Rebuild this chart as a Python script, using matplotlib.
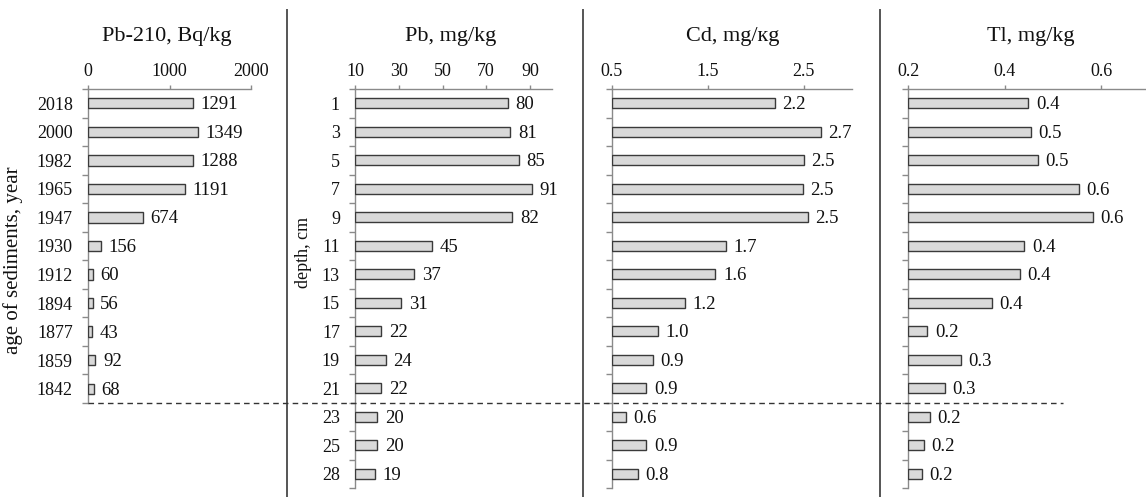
import matplotlib
matplotlib.use("Agg")
import matplotlib.pyplot as plt
import matplotlib.transforms as mtransforms
from matplotlib.lines import Line2D
import numpy as np

plt.rcParams['font.family'] = ['Liberation Serif', 'DejaVu Serif']

# ---------------- data ----------------
years = ["2018", "2000", "1982", "1965", "1947", "1930", "1912", "1894", "1877", "1859", "1842"]
depths = ["1", "3", "5", "7", "9", "11", "13", "15", "17", "19", "21", "23", "25", "28"]

pb210 = [1291, 1349, 1288, 1191, 674, 156, 60, 56, 43, 92, 68]
pb210_labels = ["1291", "1349", "1288", "1191", "674", "156", "60", "56", "43", "92", "68"]

pb = [80, 81, 85, 91, 82, 45, 37, 31, 22, 24, 22, 20, 20, 19]
pb_labels = ["80", "81", "85", "91", "82", "45", "37", "31", "22", "24", "22", "20", "20", "19"]

cd = [2.2, 2.68, 2.5, 2.49, 2.54, 1.69, 1.58, 1.26, 0.98, 0.93, 0.86, 0.65, 0.86, 0.77]
cd_labels = ["2.2", "2.7", "2.5", "2.5", "2.5", "1.7", "1.6", "1.2", "1.0", "0.9", "0.9", "0.6", "0.9", "0.8"]

tl = [0.449, 0.454, 0.468, 0.553, 0.582, 0.44, 0.431, 0.373, 0.239, 0.309, 0.276, 0.244, 0.232, 0.228]
tl_labels = ["0.4", "0.5", "0.5", "0.6", "0.6", "0.4", "0.4", "0.4", "0.2", "0.3", "0.3", "0.2", "0.2", "0.2"]

titles = ["Pb-210, Bq/kg", "Pb, mg/kg", "Cd, mg/кg", "Tl, mg/kg"]

# ---------------- layout ----------------
W, H = 1146, 497
fig = plt.figure(figsize=(W / 100, H / 100), dpi=100)

def px_axes(left, right, top, bottom):
    return fig.add_axes([left / W, 1 - bottom / H, (right - left) / W, (bottom - top) / H])

GRAY = "#8a8a8a"
TXT = "#111111"
FILL = "#d9d9d9"
EDGE = "#3a3a3a"

panels = [
    dict(box=(88, 251, 89, 403), vals=pb210, labs=pb210_labels, cats=years,
         xlim=(0, 2000), xticks=[0, 1000, 2000], xtl=["0", "1000", "2000"], show_y=True),
    dict(box=(355.3, 551.7, 89, 488), vals=pb, labs=pb_labels, cats=depths,
         xlim=(10, 100), xticks=[10, 30, 50, 70, 90], xtl=["10", "30", "50", "70", "90"], show_y=True),
    dict(box=(611.7, 851.7, 89, 488), vals=cd, labs=cd_labels, cats=depths,
         xlim=(0.5, 3.0), xticks=[0.5, 1.5, 2.5], xtl=["0.5", "1.5", "2.5"], show_y=False),
    dict(box=(908.3, 1149.6, 89, 488), vals=tl, labs=tl_labels, cats=depths,
         xlim=(0.2, 0.7), xticks=[0.2, 0.4, 0.6], xtl=["0.2", "0.4", "0.6"], show_y=False),
]

axes = []
for p in panels:
    ax = px_axes(*p["box"])
    n = len(p["cats"])
    y = np.arange(n)
    x0 = p["xlim"][0]
    ax.barh(y, np.array(p["vals"]) - x0, left=x0, height=0.36,
            color=FILL, edgecolor=EDGE, linewidth=1.0, zorder=3)
    for i, (v, lab) in enumerate(zip(p["vals"], p["labs"])):
        ax.annotate(lab, xy=(v, i), xytext=(5.5, -1), textcoords="offset points",
                    ha="left", va="center", fontsize=13.5, color=TXT)
    ax.set_xlim(*p["xlim"])
    ax.set_ylim(n - 0.5, -0.5)
    ax.xaxis.tick_top()
    ax.set_xticks(p["xticks"])
    ax.set_xticklabels(p["xtl"])
    ax.tick_params(axis="x", direction="out", length=3, width=1, color=GRAY,
                   labelsize=13, labelcolor=TXT, pad=3.5)
    ax.set_yticks(y)
    if p["show_y"]:
        ax.set_yticklabels(p["cats"])
    else:
        ax.set_yticklabels([])
    ax.set_yticks(np.arange(-0.5, n), minor=True)
    ax.tick_params(axis="y", which="major", length=0, labelsize=13, labelcolor=TXT, pad=11)
    ax.tick_params(axis="y", which="minor", direction="out", length=4.5, width=1, color=GRAY)
    for s in ["right", "bottom"]:
        ax.spines[s].set_visible(False)
    for s in ["left", "top"]:
        ax.spines[s].set_color(GRAY)
        ax.spines[s].set_linewidth(1.0)
    ax.patch.set_visible(False)
    axes.append(ax)

# titles
for t, xc in zip(titles, [167, 451, 733, 1031]):
    fig.text(xc / W, 1 - 36 / H, t, ha="center", va="center", fontsize=16, color=TXT)

# y-axis labels
fig.text(13 / W, 1 - 260 / H, "age of sediments, year", rotation=90,
         ha="center", va="center", fontsize=15, color=TXT)
fig.text(304 / W, 1 - 252 / H, "depth, cm", rotation=90,
         ha="center", va="center", fontsize=13, color=TXT)

# vertical separators
for xs in [287, 583, 880]:
    fig.add_artist(Line2D([xs / W, xs / W], [0, 1 - 10 / H], transform=fig.transFigure,
                          color="#555555", linewidth=1.4))

# dashed divider between dated and undated layers
trans = mtransforms.blended_transform_factory(fig.transFigure, axes[1].transData)
fig.add_artist(Line2D([88 / W, 1063 / W], [10.5, 10.5], transform=trans,
                      color="#333333", linewidth=1.0, linestyle=(0, (4, 3))))

fig.savefig("out.png", dpi=100)
